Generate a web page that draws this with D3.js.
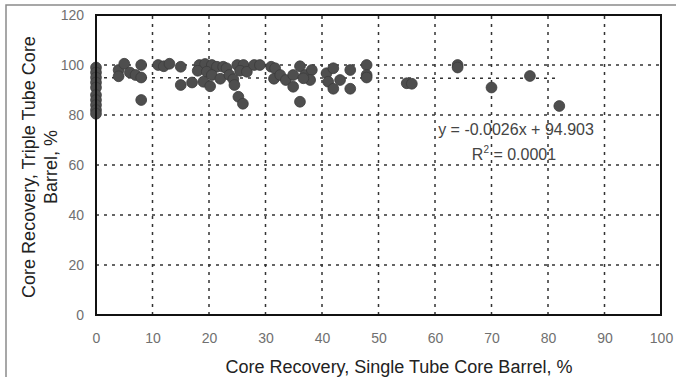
<!DOCTYPE html>
<html><head><meta charset="utf-8">
<script src="https://cdn.jsdelivr.net/npm/d3@7"></script>
<style>html,body{margin:0;padding:0;background:#fff;overflow:hidden}</style>
</head><body>
<svg id="chart" width="676" height="377"></svg>
<script>
// Single tube core recovery (%) vs triple tube core recovery (%)
const singleTube = [0,0,0,0,0,0,0,0,0,0,
  4,4,5,6,7,8,8,8,
  11,12,13,15,15,17,
  18.3,19.3,20.5,21.4,18,19.6,20.5,19,20.2,22,
  22.5,23.1,23.6,24.3,25,26.1,25.5,26.7,24.5,25.2,26,28,29,
  31,31.5,31.7,32.6,33.6,34.9,34.9,36.1,37,38.2,37.9,36.1,36.7,
  40.8,42,41.1,43.2,42,45,45,47.9,47.9,47.9,
  55,55.9,64,64,70,76.8,82];
const tripleTube = [99,97,95,93,91,88,86,84,82,80.5,
  98,95.5,100.5,97,96,95,100,86,
  100,99.5,100.5,99.3,92,93,
  100,100.4,100,99.3,97.7,97.3,96,93.3,91.5,94.5,
  99.3,98.7,96,94.3,100,100,97.7,97.3,92,87.3,84.5,100,100,
  99.3,94.5,98.7,96,94,96,91.3,99.5,96,98,94,85.3,94.7,
  96.7,98.7,93.3,94,90.5,98,90.5,100,96,95,
  92.7,92.5,100,99,91,95.6,83.6];
const xTicks = [0,10,20,30,40,50,60,70,80,90,100];
const yTicks = [0,20,40,60,80,100,120];
const trendSlope = -0.0026, trendIntercept = 94.903;
const trendLabel = "y = -0.0026x + 94.903";
const r2Label = "= 0.0001";
const xTitle = "Core Recovery, Single Tube Core Barrel, %";
const yTitleLines = ["Core Recovery, Triple Tube Core", "Barrel, %"];

const svg = d3.select("#chart");
const font = "Liberation Sans, Arial, Helvetica, sans-serif";
const x = d3.scaleLinear().domain([0,100]).range([96,661]);
const y = d3.scaleLinear().domain([0,120]).range([315,15]);

// outer frame
svg.append("rect").attr("x",6).attr("y",5).attr("width",720).attr("height",420)
  .attr("fill","none").attr("stroke","#8a8a8a").attr("stroke-width",1.5);

// gridlines
svg.append("g").selectAll("line").data(yTicks.filter(d=>d>0&&d<120)).join("line")
  .attr("x1",x(0)).attr("x2",x(100)).attr("y1",d=>y(d)).attr("y2",d=>y(d))
  .attr("stroke","#333").attr("stroke-width",1.5).attr("stroke-dasharray","3,5");
svg.append("g").selectAll("line").data(xTicks.filter(d=>d>0&&d<100)).join("line")
  .attr("y1",y(0)).attr("y2",y(120)).attr("x1",d=>x(d)).attr("x2",d=>x(d))
  .attr("stroke","#333").attr("stroke-width",1.5).attr("stroke-dasharray","3,5");

// trendline
const tMax = d3.max(singleTube);
svg.append("line").attr("x1",x(0)).attr("x2",x(tMax))
  .attr("y1",y(trendIntercept)).attr("y2",y(trendIntercept+trendSlope*tMax))
  .attr("stroke","#333").attr("stroke-width",1.5).attr("stroke-dasharray","3,5");

// points
svg.append("g").selectAll("circle").data(singleTube.map((d,i)=>[d,tripleTube[i]])).join("circle")
  .attr("cx",d=>x(d[0])).attr("cy",d=>y(d[1])).attr("r",5.4)
  .attr("fill","#4e4e4e").attr("stroke","#3c3c3c").attr("stroke-width",0.8);

// plot frame
svg.append("rect").attr("x",x(0)).attr("y",y(120)).attr("width",x(100)-x(0)).attr("height",y(0)-y(120))
  .attr("fill","none").attr("stroke","#111").attr("stroke-width",2);

// axes
const xAxis = svg.append("g").attr("transform",`translate(0,${y(0)})`)
  .call(d3.axisBottom(x).tickValues(xTicks).tickSize(0).tickPadding(18));
const yAxis = svg.append("g").attr("transform",`translate(${x(0)},0)`)
  .call(d3.axisLeft(y).tickValues(yTicks).tickSize(0).tickPadding(12));
[xAxis,yAxis].forEach(g=>{
  g.select(".domain").remove();
  g.selectAll("text").attr("font-family",font).attr("font-size",14).attr("fill","#707070");
});

// titles
svg.append("text").attr("x",399).attr("y",373).attr("text-anchor","middle")
  .attr("font-family",font).attr("font-size",18).attr("fill","#222").text(xTitle);
const yt = svg.append("text").attr("transform","translate(35,167) rotate(-90)")
  .attr("text-anchor","middle").attr("font-family",font).attr("font-size",18).attr("fill","#222");
yTitleLines.forEach((t,i)=>yt.append("tspan").attr("x",0).attr("dy",i?22:0).text(t));

// trend annotation
svg.append("text").attr("x",516).attr("y",135).attr("text-anchor","middle")
  .attr("font-family",font).attr("font-size",16).attr("fill","#444").text(trendLabel);
const r2 = svg.append("text").attr("x",514).attr("y",160).attr("text-anchor","middle")
  .attr("font-family",font).attr("font-size",16).attr("fill","#444");
r2.append("tspan").text("R");
r2.append("tspan").attr("font-size",10).attr("dy",-7).text("2");
r2.append("tspan").attr("dy",7).text(" " + r2Label);
</script>
</body></html>
